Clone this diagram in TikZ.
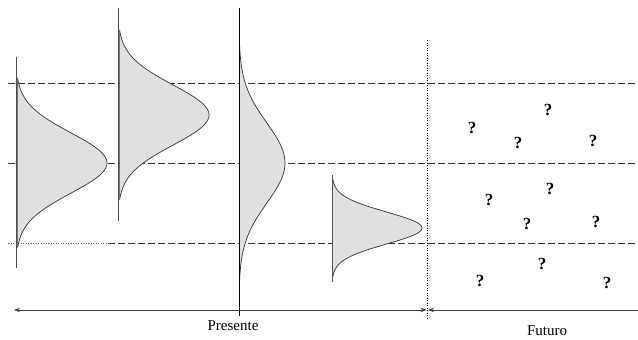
\documentclass[tikz,border=0pt]{standalone}
\usepackage{fontspec}
\setmainfont{Liberation Serif}
\usetikzlibrary{arrows.meta}

\begin{document}
\begin{tikzpicture}[
x=1pt, y=-1pt,
hline/.style={draw=black!80, line width=0.6pt, dash pattern=on 7pt off 3pt},
dotline/.style={draw=black!60, line width=0.6pt, dash pattern=on 1pt off 1.5pt},
base/.style={draw=black!70, line width=0.9pt},
bell/.style={draw=black!80, line width=0.7pt, fill=black!12},
axis/.style={draw=black!75, line width=0.8pt, >={Stealth[length=6pt,width=4.5pt]}},
qmark/.style={font=\fontsize{17}{17}\selectfont\bfseries, inner sep=0pt},
label/.style={font=\fontsize{15}{15}\selectfont, inner sep=0pt}
]
\useasboundingbox (0,0) rectangle (638,340);

% levels
\draw[hline] (8,83) -- (638,83);
\draw[hline] (8,163) -- (638,163);
\draw[dotline] (8,243) -- (108,243);
\draw[hline] (108,243) -- (638,243);

% distributions
\filldraw[bell] plot[domain=78:248, samples=90, smooth] ({16+91*exp(-(\x-163)*(\x-163)/1800)}, \x) -- cycle;
\draw[base] (16,57) -- (16,268);

\filldraw[bell] plot[domain=30:200, samples=90, smooth] ({118+91*exp(-(\x-115)*(\x-115)/1800)}, \x) -- cycle;
\draw[base] (118,8) -- (118,221);

\filldraw[bell] plot[domain=45:281, samples=90, smooth] ({239+46*exp(-(\x-163)*(\x-163)/3200)}, \x) -- cycle;
\draw[draw=black, line width=0.8pt] (239,8) -- (239,316);

\filldraw[bell] plot[domain=176:281, samples=90, smooth] ({332+90*exp(-(\x-228)*(\x-228)/512)}, \x) -- cycle;
\draw[base] (332,175) -- (332,282);

% present / future
\draw[dotline, draw=black] (427,40) -- (427,318);
\coordinate (start) at (14,310);
\coordinate (now) at (426.5,310);
\coordinate (now2) at (428,310);
\coordinate (end) at (638,310);
\draw[axis, <->] (start) -- (now);
\draw[axis, <-] (now2) -- (end);
\node[label] (presente) at (233,326) {Presente};
\node[label] (futuro) at (547,331) {Futuro};

% unknown values
\node[qmark] (q1) at (472,128) {?};
\node[qmark] (q2) at (548,110) {?};
\node[qmark] (q3) at (518,143) {?};
\node[qmark] (q4) at (593,141) {?};
\node[qmark] (q5) at (489,200) {?};
\node[qmark] (q6) at (550,189) {?};
\node[qmark] (q7) at (527,224) {?};
\node[qmark] (q8) at (596,222) {?};
\node[qmark] (q9) at (542,264) {?};
\node[qmark] (q10) at (480,281) {?};
\node[qmark] (q11) at (607,283) {?};

\end{tikzpicture}
\end{document}
